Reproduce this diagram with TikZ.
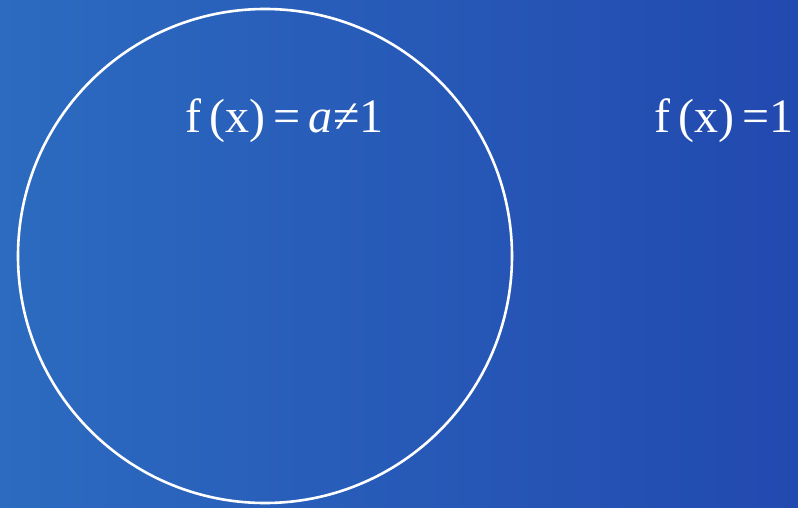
\documentclass[tikz,border=0pt]{standalone}
\usepackage{fontspec}
\setmainfont{Liberation Serif}
\definecolor{bgleft}{HTML}{2C6BC0}
\definecolor{bgright}{HTML}{2249AF}
\begin{document}
\begin{tikzpicture}[x=1pt,y=-1pt,
  lbl/.style={text=white,font=\fontsize{48}{52}\selectfont,inner sep=0pt,anchor=base}]
\useasboundingbox (0,0) rectangle (798,508);
\shade[left color=bgleft,right color=bgright] (0,0) rectangle (798,508);
\node[draw=white,line width=2.6pt,circle,minimum size=494pt,inner sep=0pt] (c) at (265,256) {};
\node[lbl,anchor=base west] (t1) at (185,133) {f\,(x)\,=\,\textit{a}\kern1pt≠1};
\node[lbl,anchor=base west] (t2) at (654,133) {f\,(x)\,=1};
\end{tikzpicture}
\end{document}
